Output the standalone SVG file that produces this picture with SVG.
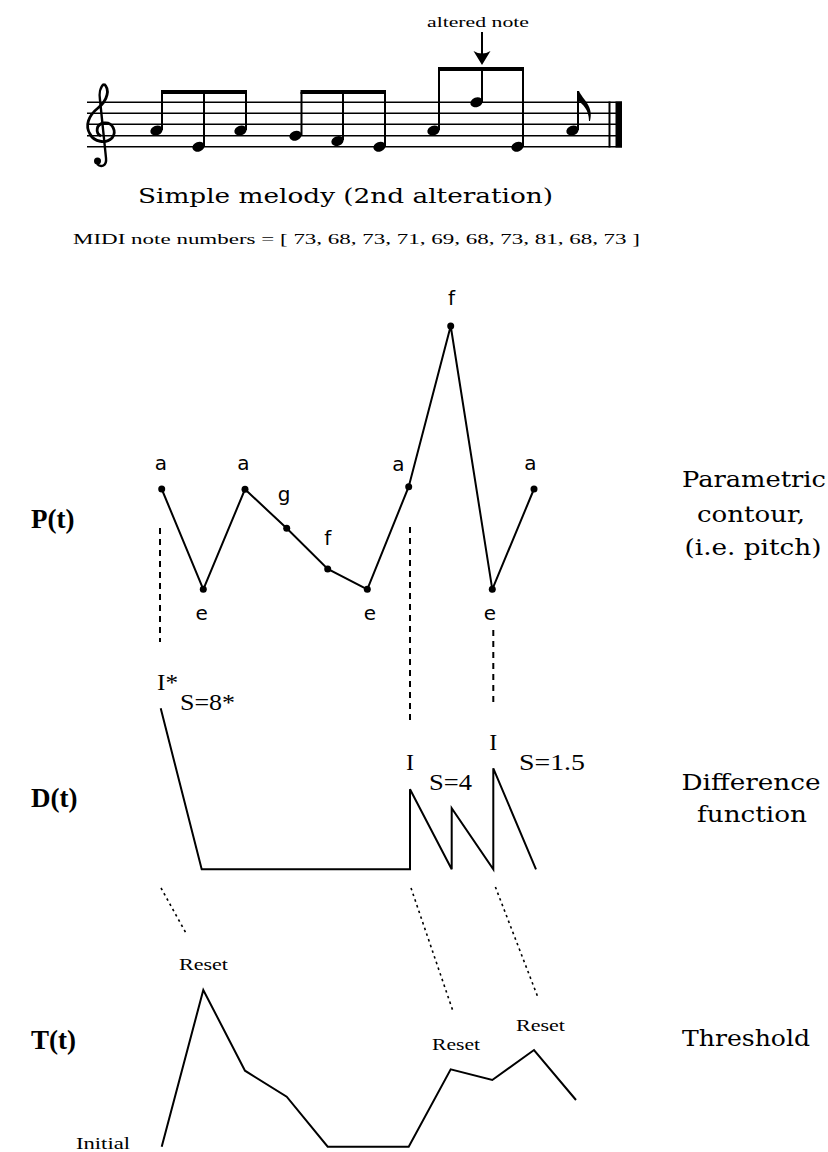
<svg xmlns="http://www.w3.org/2000/svg" width="828" height="1152" viewBox="0 0 828 1152">
<style>
.serif{font-family:"DejaVu Serif","Liberation Serif",serif;fill:#000}
.times{font-family:"Liberation Serif",serif;fill:#000}
.sans{font-family:"DejaVu Sans","Liberation Sans",sans-serif;font-size:20px;fill:#000;text-anchor:middle}
.bold{font-family:"Liberation Serif",serif;font-weight:bold;font-size:27px;fill:#000}
.right{font-family:"DejaVu Serif","Liberation Serif",serif;font-size:22px;fill:#000;text-anchor:middle}
.line{fill:none;stroke:#000;stroke-width:2;stroke-linejoin:miter}
.dash{fill:none;stroke:#000;stroke-width:2;stroke-dasharray:6 5}
.dot{fill:none;stroke:#000;stroke-width:1.6;stroke-dasharray:2.5 3.5}
.staff{stroke:#000;stroke-width:1.6}
.stem{stroke:#000;stroke-width:2}
</style>
<rect width="828" height="1152" fill="#fff"/>

<g id="staff">
  <line class="staff" x1="87" y1="102.3" x2="622" y2="102.3"/>
  <line class="staff" x1="87" y1="113.3" x2="622" y2="113.3"/>
  <line class="staff" x1="87" y1="124.3" x2="622" y2="124.3"/>
  <line class="staff" x1="87" y1="135.7" x2="622" y2="135.7"/>
  <line class="staff" x1="87" y1="146.7" x2="622" y2="146.7"/>
  <rect x="608.5" y="101.5" width="2" height="46" fill="#000"/>
  <rect x="615.5" y="101.5" width="6.5" height="46" fill="#000"/>
  <!-- treble clef -->
  <path d="M104 84 C110 89,108 100,98 108 C88 116,85 126,90 134 C94 142,106 144,112 138 C117 132,113 122,104 123 C96 124,95 133,101 136" fill="none" stroke="#000" stroke-width="2.8"/>
  <path d="M104 84 C100 87,99 94,100 100 L106 158 C107 166,101 168,97 164" fill="none" stroke="#000" stroke-width="2.4"/>
  <circle cx="97.5" cy="161" r="3.5" fill="#000"/>
  <!-- note heads -->
  <g fill="#000">
    <ellipse cx="156.5" cy="130.5" rx="6.3" ry="4.8" transform="rotate(-20 156.5 130.5)"/>
    <ellipse cx="198.5" cy="146.7" rx="6.3" ry="4.8" transform="rotate(-20 198.5 146.7)"/>
    <ellipse cx="240.5" cy="130.5" rx="6.3" ry="4.8" transform="rotate(-20 240.5 130.5)"/>
    <ellipse cx="295.5" cy="135.7" rx="6.3" ry="4.8" transform="rotate(-20 295.5 135.7)"/>
    <ellipse cx="337.5" cy="141" rx="6.3" ry="4.8" transform="rotate(-20 337.5 141)"/>
    <ellipse cx="379.5" cy="146.7" rx="6.3" ry="4.8" transform="rotate(-20 379.5 146.7)"/>
    <ellipse cx="433.5" cy="130.5" rx="6.3" ry="4.8" transform="rotate(-20 433.5 130.5)"/>
    <ellipse cx="476.5" cy="102.3" rx="6.3" ry="4.8" transform="rotate(-20 476.5 102.3)"/>
    <ellipse cx="517.5" cy="146.7" rx="6.3" ry="4.8" transform="rotate(-20 517.5 146.7)"/>
    <ellipse cx="572.5" cy="130.5" rx="6.3" ry="4.8" transform="rotate(-20 572.5 130.5)"/>
  </g>
  <!-- stems -->
  <line class="stem" x1="162" y1="130" x2="162" y2="92"/>
  <line class="stem" x1="204" y1="146" x2="204" y2="92"/>
  <line class="stem" x1="246" y1="130" x2="246" y2="92"/>
  <line class="stem" x1="301.5" y1="135" x2="301.5" y2="92"/>
  <line class="stem" x1="343" y1="140" x2="343" y2="92"/>
  <line class="stem" x1="385" y1="146" x2="385" y2="92"/>
  <line class="stem" x1="439" y1="130" x2="439" y2="69"/>
  <line class="stem" x1="482" y1="102" x2="482" y2="69"/>
  <line class="stem" x1="523" y1="146" x2="523" y2="69"/>
  <line class="stem" x1="578" y1="130" x2="578" y2="91"/>
  <!-- beams -->
  <rect x="161" y="90" width="86" height="4" fill="#000"/>
  <rect x="300.5" y="90" width="85.5" height="4" fill="#000"/>
  <rect x="438" y="67" width="86" height="4" fill="#000"/>
  <!-- flag -->
  <path d="M577 91 L579 91 C583 100,594 106,590 121 L589 121 C589 110,583 104,577 100 Z" fill="#000"/>
</g>

<g id="altered-note">
  <text class="times" x="427" y="27" font-size="15" textLength="102" lengthAdjust="spacingAndGlyphs">altered note</text>
  <line x1="482" y1="32" x2="482" y2="58" stroke="#000" stroke-width="2"/>
  <path d="M482 65 L473.5 51 Q482 56 490.5 51 Z" fill="#000"/>
</g>

<g id="title">
  <text class="serif" x="138" y="203" font-size="21" textLength="415" lengthAdjust="spacingAndGlyphs">Simple melody (2nd alteration)</text>
  <text class="times" x="73" y="244" font-size="15" textLength="567" lengthAdjust="spacingAndGlyphs">MIDI note numbers = [ 73, 68, 73, 71, 69, 68, 73, 81, 68, 73 ]</text>
</g>

<g id="row-labels">
  <text class="bold" x="31" y="528">P(t)</text>
  <text class="bold" x="31" y="807">D(t)</text>
  <text class="bold" x="31" y="1049">T(t)</text>
</g>

<g id="side-labels">
  <text class="right" x="754" y="487" textLength="144" lengthAdjust="spacingAndGlyphs">Parametric</text>
  <text class="right" x="751" y="522" textLength="108" lengthAdjust="spacingAndGlyphs">contour,</text>
  <text class="right" x="753" y="555" textLength="137" lengthAdjust="spacingAndGlyphs">(i.e. pitch)</text>
  <text class="right" x="751" y="790" textLength="139" lengthAdjust="spacingAndGlyphs">Difference</text>
  <text class="right" x="752" y="822" textLength="110" lengthAdjust="spacingAndGlyphs">function</text>
  <text class="right" x="746" y="1046" textLength="128" lengthAdjust="spacingAndGlyphs">Threshold</text>
</g>

<g id="pitch-contour">
  <polyline class="line" points="161.7,489 203.3,589.3 245,489.3 286.7,528.3 327.7,569 367.3,589.3 408.7,486.7 450.7,326 492.3,589.3 534,489"/>
  <g fill="#000">
    <circle cx="161.7" cy="489" r="3.5"/>
    <circle cx="203.3" cy="589.3" r="3.5"/>
    <circle cx="245" cy="489.3" r="3.5"/>
    <circle cx="286.7" cy="528.3" r="3.5"/>
    <circle cx="327.7" cy="569" r="3.5"/>
    <circle cx="367.3" cy="589.3" r="3.5"/>
    <circle cx="408.7" cy="486.7" r="3.5"/>
    <circle cx="450.7" cy="326" r="3.5"/>
    <circle cx="492.3" cy="589.3" r="3.5"/>
    <circle cx="534" cy="489" r="3.5"/>
  </g>
  <text class="sans" x="161" y="470">a</text>
  <text class="sans" x="243.5" y="470">a</text>
  <text class="sans" x="284" y="501">g</text>
  <text class="sans" x="327.7" y="545">f</text>
  <text class="sans" x="398.5" y="471">a</text>
  <text class="sans" x="451.5" y="305">f</text>
  <text class="sans" x="530.5" y="470">a</text>
  <text class="sans" x="201.7" y="620">e</text>
  <text class="sans" x="370" y="620">e</text>
  <text class="sans" x="490" y="620">e</text>
</g>

<g id="connectors">
  <line class="dash" x1="160" y1="528" x2="160" y2="642"/>
  <line class="dash" x1="410" y1="527" x2="410" y2="720"/>
  <line class="dash" x1="493.3" y1="630" x2="493.3" y2="703"/>
  <line class="dot" x1="161" y1="888" x2="187" y2="935"/>
  <line class="dot" x1="411" y1="888" x2="453.6" y2="1013"/>
  <line class="dot" x1="495.4" y1="887" x2="537.8" y2="997"/>
</g>

<g id="difference-function">
  <polyline class="line" points="160.7,708.3 201.7,869.3 410,869.3 410,789.3 451.7,869.3 451.7,808.3 493.3,869.3 493.3,768.3 536,869.3"/>
  <text class="times" x="157" y="690" font-size="24" textLength="21" lengthAdjust="spacingAndGlyphs">I*</text>
  <text class="times" x="180" y="710" font-size="24" textLength="55" lengthAdjust="spacingAndGlyphs">S=8*</text>
  <text class="times" x="410" y="770" font-size="24" text-anchor="middle">I</text>
  <text class="times" x="493.3" y="750" font-size="24" text-anchor="middle">I</text>
  <text class="times" x="429" y="790" font-size="24" textLength="43" lengthAdjust="spacingAndGlyphs">S=4</text>
  <text class="times" x="519" y="770" font-size="24" textLength="66" lengthAdjust="spacingAndGlyphs">S=1.5</text>
</g>

<g id="threshold">
  <polyline class="line" points="161.7,1146.7 203.3,990 245,1070.7 286.7,1096.7 327.7,1146.7 408.7,1146.7 450.7,1069.3 492.3,1080 534,1050 576,1100"/>
  <text class="times" x="179" y="970" font-size="17" textLength="49" lengthAdjust="spacingAndGlyphs">Reset</text>
  <text class="times" x="432" y="1050" font-size="17" textLength="48" lengthAdjust="spacingAndGlyphs">Reset</text>
  <text class="times" x="516" y="1031" font-size="17" textLength="49" lengthAdjust="spacingAndGlyphs">Reset</text>
  <text class="times" x="76" y="1149" font-size="17" textLength="54" lengthAdjust="spacingAndGlyphs">Initial</text>
</g>
</svg>
